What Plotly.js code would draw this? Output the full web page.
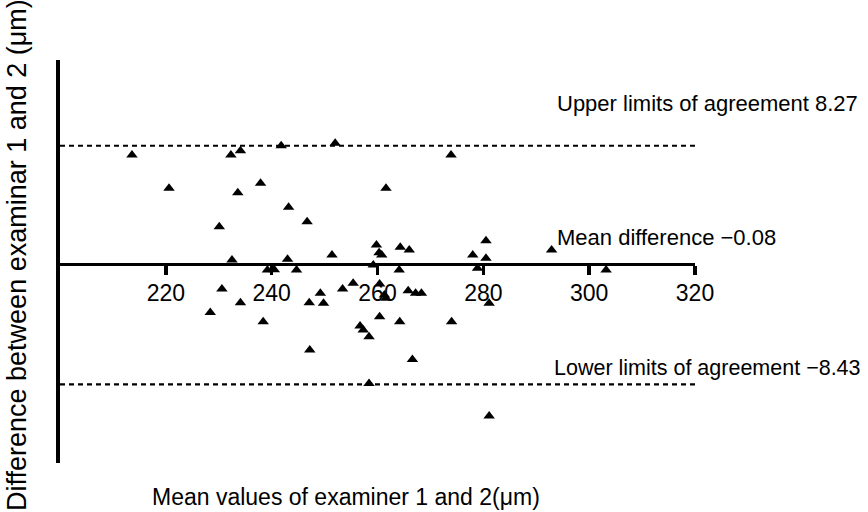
<!DOCTYPE html>
<html>
<head>
<meta charset="utf-8">
<script src="https://cdn.plot.ly/plotly-3.0.1.min.js"></script>
<style>html,body{margin:0;padding:0;background:#fff;}#chart{width:868px;height:512px;}</style>
</head>
<body>
<div id="chart"></div>
<script>
// Mean of examiners 1 and 2 (µm)
const meanValues = [213.6,232.3,234.1,241.8,252.0,220.6,233.6,237.9,243.2,246.7,230.1,251.4,232.5,243.0,239.2,240.5,244.7,
  273.9,261.6,259.8,260.3,260.8,264.3,266.0,278.0,280.5,280.5,292.9,259.2,264.1,278.9,
  303.2,260.4,255.4,253.4,261.3,261.6,265.8,267.2,268.3,249.2,247.1,249.8,281.1,260.4,264.2,274.0,256.7,257.3,258.4,247.2,266.6,258.4,281.1,
  230.6,234.1,228.4,238.4,199.8];
// Difference between examiners 1 and 2 (µm)
const differences = [7.62,7.62,7.92,8.27,8.44,5.29,4.98,5.64,3.96,2.95,2.60,0.62,0.27,0.32,-0.43,-0.40,-0.43,
  7.62,5.29,1.32,0.78,0.62,1.16,0.97,0.62,1.62,0.39,0.97,-0.08,-0.43,-0.31,
  -0.43,-1.41,-1.36,-1.76,-2.18,-2.41,-1.88,-2.06,-2.06,-2.06,-2.72,-2.76,-2.76,-3.69,-4.04,-4.04,-4.35,-4.63,-5.09,-6.03,-6.68,-8.36,-10.64,
  -1.76,-2.72,-3.39,-4.04,-5.86];
const upperLimit = 8.27;
const meanDiff = -0.08;
const lowerLimit = -8.43;
const xTicks = [220,240,260,280,300,320];
const xRange = [200,320];
const yRange = [-13.93,14.27];

const FONT = "Liberation Sans, Arial, Helvetica, sans-serif";
const limitLine = (y) => ({
  x: xRange, y: [y, y], mode: 'lines', type: 'scatter', hoverinfo: 'skip',
  line: {color: '#000', width: 2.2, dash: '5px,4px'}, showlegend: false
});

const traces = [
  limitLine(upperLimit),
  limitLine(lowerLimit),
  {
    x: meanValues, y: differences, mode: 'markers', type: 'scatter', cliponaxis: false,
    marker: {symbol: 'triangle-up', size: 10, color: '#000'}, showlegend: false
  }
];

const layout = {
  width: 868, height: 512,
  margin: {l: 60, r: 173, t: 60, b: 49},
  paper_bgcolor: '#fff', plot_bgcolor: '#fff',
  font: {family: FONT, color: '#000'},
  xaxis: {
    range: xRange, tickvals: xTicks, ticktext: xTicks.map(String),
    showgrid: false, zeroline: false, showline: true, linecolor: '#000', linewidth: 3.5,
    ticks: 'outside', ticklen: 9, tickwidth: 3.5, tickcolor: '#000',
    tickfont: {size: 23, family: FONT, color: '#000'}, ticklabelstandoff: -2,
    anchor: 'free', position: (0 - yRange[0]) / (yRange[1] - yRange[0])
  },
  yaxis: {
    range: yRange, showgrid: false, zeroline: false, showticklabels: false, ticks: '',
    showline: true, linecolor: '#000', linewidth: 4
  },
  annotations: [
    {xref: 'x', yref: 'y', x: 293.6, y: 11.26, xanchor: 'left', yanchor: 'middle', showarrow: false,
     text: 'Upper limits of agreement ' + upperLimit.toFixed(2), font: {size: 22, family: FONT, color: '#000'}},
    {xref: 'x', yref: 'y', x: 293.6, y: 1.88, xanchor: 'left', yanchor: 'middle', showarrow: false,
     text: 'Mean difference \u2212' + Math.abs(meanDiff).toFixed(2), font: {size: 22, family: FONT, color: '#000'}},
    {xref: 'x', yref: 'y', x: 293.0, y: -7.28, xanchor: 'left', yanchor: 'middle', showarrow: false,
     text: 'Lower limits of agreement \u2212' + Math.abs(lowerLimit).toFixed(2), font: {size: 21.5, family: FONT, color: '#000'}},
    {xref: 'paper', yref: 'paper', x: (346 - 60) / 635, y: -(497 - 463) / 403, xanchor: 'center', yanchor: 'middle', showarrow: false,
     text: 'Mean values of examiner 1 and 2(\u03bcm)', font: {size: 23, family: FONT, color: '#000'}},
    {xref: 'paper', yref: 'paper', x: -(60 - 17) / 635, y: (463 - 255) / 403, xanchor: 'center', yanchor: 'middle', showarrow: false,
     textangle: -90, text: 'Difference between examinar 1 and 2 (\u03bcm)', font: {size: 27, family: FONT, color: '#000'}}
  ]
};

Plotly.newPlot('chart', traces, layout, {displayModeBar: false, staticPlot: true});
</script>
</body>
</html>
